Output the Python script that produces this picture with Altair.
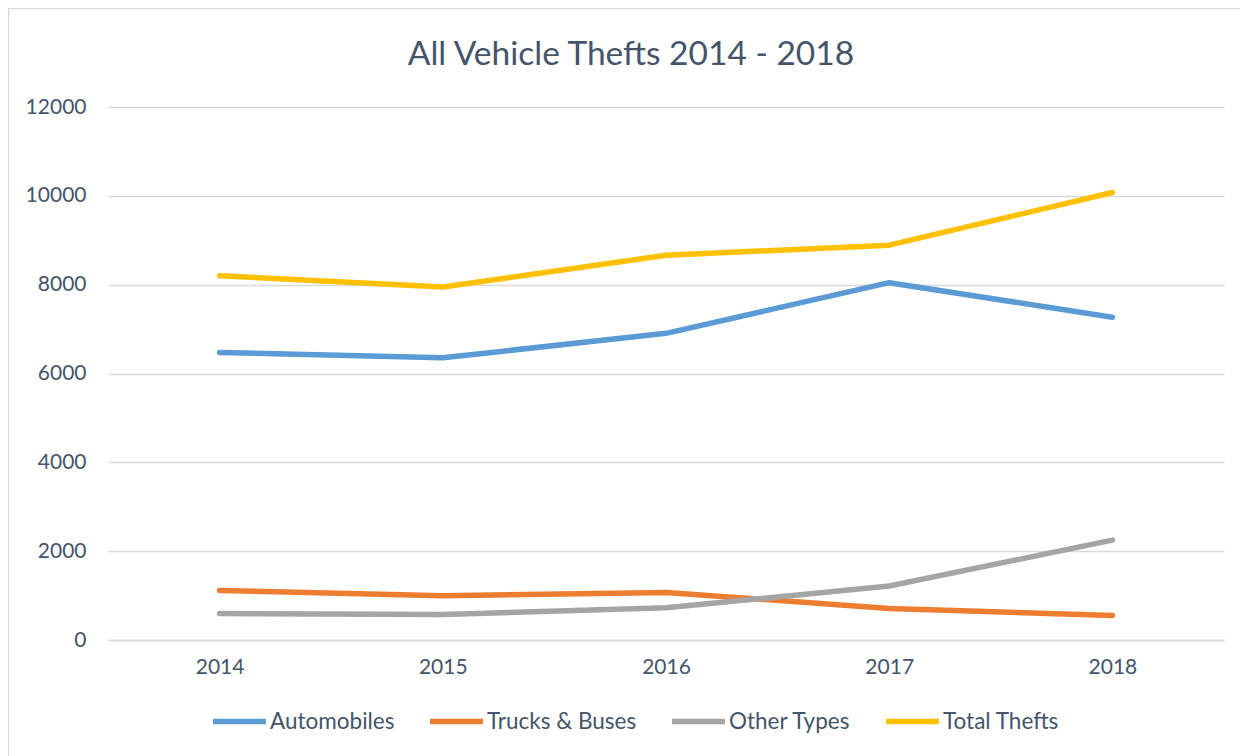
import altair as alt
import pandas as pd

years = ["2014", "2015", "2016", "2017", "2018"]
series_names = ["Automobiles", "Trucks & Buses", "Other Types", "Total Thefts"]
automobiles = [6475, 6354, 6904, 8045, 7266]
trucks_buses = [1117, 996, 1072, 709, 551]
other_types = [596, 574, 725, 1215, 2249]
total_thefts = [8203, 7947, 8663, 8889, 10075]
colors = ["#5b9bd5", "#ed7d31", "#a5a5a5", "#ffc000"]
y_ticks = [0, 2000, 4000, 6000, 8000, 10000, 12000]
title_text = "All Vehicle Thefts 2014 - 2018"

rows = []
for name, vals in zip(series_names, [automobiles, trucks_buses, other_types, total_thefts]):
    for yr, v in zip(years, vals):
        rows.append({"Year": yr, "Series": name, "Value": v})
df = pd.DataFrame(rows)

FONT = "Lato"
TXT = "#44546a"

lines = alt.Chart(df).mark_line(strokeWidth=5.5, strokeCap="round", strokeJoin="round").encode(
    x=alt.X("Year:O", sort=years, scale=alt.Scale(type="point", padding=0.5),
            axis=alt.Axis(title=None, labelAngle=0, ticks=False, tickSize=0, domain=True,
                          domainColor="#d9d9d9", domainWidth=1.5, labelPadding=16,
                          labelFontSize=21, labelColor=TXT, labelFont=FONT)),
    y=alt.Y("Value:Q", scale=alt.Scale(domain=[0, 12000], nice=False),
            axis=alt.Axis(title=None, values=y_ticks, ticks=False, tickSize=0, domain=False,
                          grid=True, gridColor="#d9d9d9", gridWidth=1.5, labelPadding=22,
                          labelFontSize=21, labelColor=TXT, labelFont=FONT, format="d")),
    color=alt.Color("Series:N", sort=series_names,
                    scale=alt.Scale(domain=series_names, range=colors),
                    legend=alt.Legend(title=None, orient="none", legendX=102, legendY=585,
                                      direction="horizontal", symbolType="stroke",
                                      symbolSize=2800, symbolStrokeWidth=5.5,
                                      labelFontSize=22.5, labelColor=TXT, labelFont=FONT,
                                      labelOffset=1, columnPadding=24)),
    order=alt.value(0),
)

border = alt.Chart(alt.Data(values=[{"a": 1}])).mark_rect(
    fill="transparent", stroke="#d9d9d9", strokeWidth=1.5
).encode(
    x=alt.value(-99.5), x2=alt.value(1300), y=alt.value(-98.5), y2=alt.value(800)
)

title = alt.Chart(alt.Data(values=[{"t": title_text}])).mark_text(
    font=FONT, fontSize=33.5, color=TXT, align="center", baseline="alphabetic"
).encode(
    text="t:N", x=alt.value(523), y=alt.value(-42)
)

chart = alt.layer(border, lines, title).properties(
    width=1116,
    height=533,
    autosize=alt.AutoSizeParams(type="none"),
    padding={"left": 100, "top": 99, "right": 16, "bottom": 116},
).configure_view(stroke=None)

chart.save("out.html", embed_options={"renderer": "svg", "actions": False})
